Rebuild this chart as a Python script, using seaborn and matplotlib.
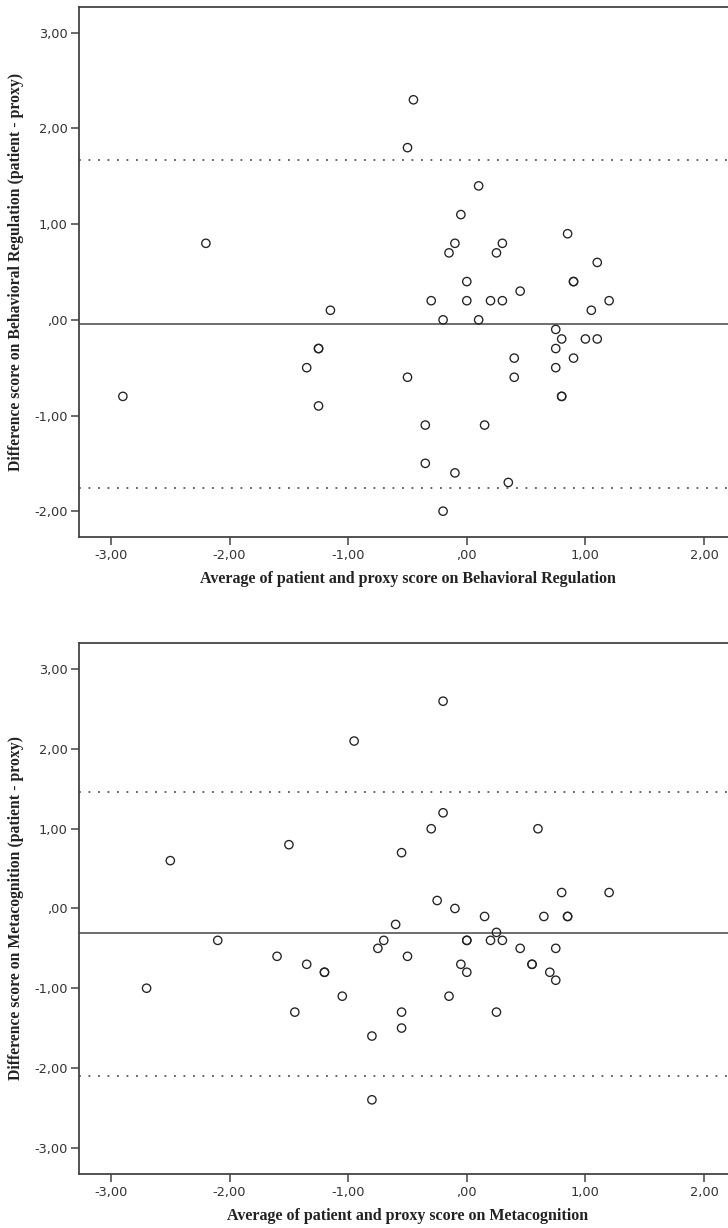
import matplotlib
matplotlib.use('Agg')
import matplotlib.pyplot as plt
import seaborn as sns

# Behavioral Regulation: media e differenza (paziente - proxy)
br_avg = [-0.45, -0.50, 0.10, -0.05, -2.20, -0.10, 0.30, -0.15, 0.25, 0.85,
          1.10, 0.90, 0.90, 0.00, 0.45, -0.30, 0.00, 0.20, 0.30, 1.20,
          -1.15, 1.05, -0.20, 0.10, 0.75, 0.80, 1.00, 1.10, -1.25, -1.25,
          0.75, 0.40, 0.90, -1.35, 0.75, -0.50, 0.40, -2.90, 0.80, 0.80,
          -1.25, -0.35, 0.15, -0.35, -0.10, 0.35, -0.20]
br_diff = [2.30, 1.80, 1.40, 1.10, 0.80, 0.80, 0.80, 0.70, 0.70, 0.90,
           0.60, 0.40, 0.40, 0.40, 0.30, 0.20, 0.20, 0.20, 0.20, 0.20,
           0.10, 0.10, 0.00, 0.00, -0.10, -0.20, -0.20, -0.20, -0.30, -0.30,
           -0.30, -0.40, -0.40, -0.50, -0.50, -0.60, -0.60, -0.80, -0.80, -0.80,
           -0.90, -1.10, -1.10, -1.50, -1.60, -1.70, -2.00]
br_mean = -0.04
br_upper = 1.67
br_lower = -1.76

# Metacognition
mc_avg = [-0.20, -0.95, -0.20, -0.30, 0.60, -1.50, -0.55, -2.50, 0.80, 1.20,
          -0.25, -0.10, 0.15, 0.65, 0.85, 0.85, -0.60, 0.25, -2.10, -0.70,
          0.00, 0.00, 0.20, 0.30, -0.75, 0.45, 0.75, -1.60, -0.50, -1.35,
          -0.05, 0.55, 0.55, -1.20, -1.20, 0.00, 0.70, 0.75, -2.70, -1.05,
          -0.15, -1.45, -0.55, 0.25, -0.55, -0.80, -0.80]
mc_diff = [2.60, 2.10, 1.20, 1.00, 1.00, 0.80, 0.70, 0.60, 0.20, 0.20,
           0.10, 0.00, -0.10, -0.10, -0.10, -0.10, -0.20, -0.30, -0.40, -0.40,
           -0.40, -0.40, -0.40, -0.40, -0.50, -0.50, -0.50, -0.60, -0.60, -0.70,
           -0.70, -0.70, -0.70, -0.80, -0.80, -0.80, -0.80, -0.90, -1.00, -1.10,
           -1.10, -1.30, -1.30, -1.30, -1.50, -1.60, -2.40]
mc_mean = -0.31
mc_upper = 1.46
mc_lower = -2.10

x_ticks = [-3, -2, -1, 0, 1, 2]
br_yticks = [-2, -1, 0, 1, 2, 3]
mc_yticks = [-3, -2, -1, 0, 1, 2, 3]


def fmt(v):
    # formato SPSS: virgola decimale, ",00" per lo zero
    if v == 0:
        return ',00'
    return ('%.2f' % v).replace('.', ',')


sns.set_style('white')
plt.rcParams['font.family'] = ['DejaVu Sans']

fig = plt.figure(figsize=(7.28, 12.28), dpi=100)
# l'asse destro esce leggermente dalla figura (come nel riferimento ritagliato)
ax1 = fig.add_axes([0.1085, 0.5627, 0.9025, 0.4316])
ax2 = fig.add_axes([0.1085, 0.0440, 0.9025, 0.4324])

panels = [
    (ax1, br_avg, br_diff, br_mean, br_upper, br_lower, br_yticks, (-2.27, 3.27),
     'Average of patient and proxy score on Behavioral Regulation',
     'Difference score on Behavioral Regulation (patient - proxy)'),
    (ax2, mc_avg, mc_diff, mc_mean, mc_upper, mc_lower, mc_yticks, (-3.33, 3.33),
     'Average of patient and proxy score on Metacognition',
     'Difference score on Metacognition (patient - proxy)'),
]

serif = ['Liberation Serif', 'DejaVu Serif']

for ax, xs, ys, m, up, lo, yt, ylim, xlab, ylab in panels:
    ax.axhline(m, color='#555555', lw=1.2, zorder=1)
    ax.axhline(up, color='#4a4a4a', lw=1.2, ls=(0, (1.1, 4.6)), zorder=1)
    ax.axhline(lo, color='#4a4a4a', lw=1.2, ls=(0, (1.1, 4.6)), zorder=1)
    sns.scatterplot(x=xs, y=ys, ax=ax, marker='o', s=36, facecolor='none',
                    edgecolor='#222222', linewidth=0.95, zorder=3)
    ax.set_xlim(-3.27, 2.27)
    ax.set_ylim(*ylim)
    ax.set_xticks(x_ticks)
    ax.set_xticklabels([fmt(v) for v in x_ticks], fontsize=9.3)
    ax.set_yticks(yt)
    ax.set_yticklabels([fmt(v) for v in yt], fontsize=9.3)
    ax.tick_params(axis='both', direction='out', length=5.5, width=1.1,
                   color='#444444', labelcolor='#333333', pad=2.5,
                   bottom=True, left=True)
    ax.tick_params(axis='x', pad=3)
    for side in ['top', 'left', 'bottom']:
        ax.spines[side].set_color('#444444')
        ax.spines[side].set_linewidth(1.3)
    ax.spines['right'].set_visible(False)

    ax.set_xlabel(xlab, family=serif, fontweight='bold', fontsize=11.5,
                  color='#222222')
    ax.xaxis.set_label_coords(0.5, -42 / ax.bbox.height)
    ax.xaxis.label.set_va('center')

    ax.set_ylabel(ylab, family=serif, fontweight='bold', fontsize=11.3,
                  color='#222222')
    ax.yaxis.set_label_coords(-63 / ax.bbox.width, 0.5)
    ax.yaxis.label.set_va('center')

plt.savefig('out.png', dpi=100)
